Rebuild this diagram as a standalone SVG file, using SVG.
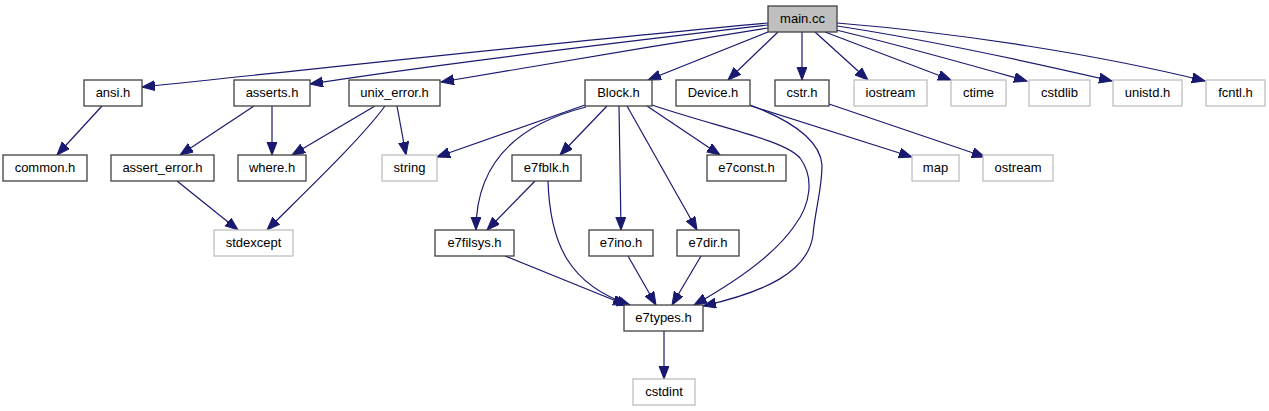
<svg xmlns="http://www.w3.org/2000/svg" width="1269" height="411" viewBox="0 0 1269 411">
<defs>
<style>
.n rect{fill:#ffffff;stroke:#404040;stroke-width:1.3}
.g rect{fill:#ffffff;stroke:#bfbfbf;stroke-width:1.3}
.m rect{fill:#bfbfbf;stroke:#404040;stroke-width:1.3}
text{font-family:"Liberation Sans",Arial,sans-serif;font-size:13px;fill:#000;text-anchor:middle}
.e path{fill:none;stroke:#191970;stroke-width:1.2;marker-end:url(#ah)}
</style>
<marker id="ah" markerWidth="14" markerHeight="11" refX="13" refY="5" orient="auto" markerUnits="userSpaceOnUse">
<path d="M0,0 L13,5 L0,10 z" fill="#191970" stroke="#191970" stroke-width="1"/>
</marker>
</defs>
<rect width="1269" height="411" fill="#ffffff"/>
<g id="edges" class="e">
<path d="M768,23 C600,38 400,60 142,87"/>
<path d="M768,25 C640,40 450,62 310,84"/>
<path d="M768,28 C660,45 540,65 441,82"/>
<path d="M768,32 L648,80"/>
<path d="M778,32 L728,80"/>
<path d="M802,32 L802,80"/>
<path d="M815,32 L868,80"/>
<path d="M825,32 L951,80"/>
<path d="M836,30 C900,45 970,65 1027,81"/>
<path d="M837,26 C930,40 1030,62 1112,81"/>
<path d="M837,23 C960,33 1100,55 1205,81"/>
<path d="M102,106 L57,155"/>
<path d="M254,106 L180,155"/>
<path d="M272,106 L272,155"/>
<path d="M375,106 L292,155"/>
<path d="M385,106 C360,140 305,192 267,230"/>
<path d="M397,106 L406,155"/>
<path d="M177,181 L238,230"/>
<path d="M585,105 L437,157"/>
<path d="M586,107 C515,125 476,165 476,230"/>
<path d="M607,106 L560,155"/>
<path d="M619,106 L621,230"/>
<path d="M627,106 L697,230"/>
<path d="M647,106 L720,155"/>
<path d="M652,105 C720,128 785,140 800,158 C815,178 810,205 795,225 C775,255 735,282 694,305"/>
<path d="M750,105 C790,120 820,140 822,165 C822,190 815,210 813,235 C808,272 765,292 703,306"/>
<path d="M751,106 L912,157"/>
<path d="M829,104 L985,157"/>
<path d="M535,181 L487,230"/>
<path d="M548,181 C550,245 570,285 630,305"/>
<path d="M505,256 L626,305"/>
<path d="M628,256 L656,305"/>
<path d="M701,256 L672,305"/>
<path d="M664,331 L664,379"/>
</g>
<g id="main_cc" class="m"><rect x="768" y="6" width="69" height="26"/><text x="802.5" y="23">main.cc</text></g>
<g id="ansi_h" class="n"><rect x="84" y="80" width="58" height="26"/><text x="113" y="97">ansi.h</text></g>
<g id="asserts_h" class="n"><rect x="234" y="80" width="76" height="26"/><text x="272" y="97">asserts.h</text></g>
<g id="unix_error_h" class="n"><rect x="349" y="80" width="91" height="26"/><text x="394.5" y="97">unix_error.h</text></g>
<g id="Block_h" class="n"><rect x="585" y="80" width="67" height="26"/><text x="618.5" y="97">Block.h</text></g>
<g id="Device_h" class="n"><rect x="676" y="80" width="74" height="26"/><text x="713" y="97">Device.h</text></g>
<g id="cstr_h" class="n"><rect x="775" y="80" width="54" height="26"/><text x="802" y="97">cstr.h</text></g>
<g id="iostream" class="g"><rect x="854" y="80" width="73" height="26"/><text x="890.5" y="97">iostream</text></g>
<g id="ctime" class="g"><rect x="951" y="80" width="55" height="26"/><text x="978.5" y="97">ctime</text></g>
<g id="cstdlib" class="g"><rect x="1029" y="80" width="61" height="26"/><text x="1059.5" y="97">cstdlib</text></g>
<g id="unistd_h" class="g"><rect x="1113" y="80" width="69" height="26"/><text x="1147.5" y="97">unistd.h</text></g>
<g id="fcntl_h" class="g"><rect x="1206" y="80" width="59" height="26"/><text x="1235.5" y="97">fcntl.h</text></g>
<g id="common_h" class="n"><rect x="3" y="155" width="84" height="26"/><text x="45" y="172">common.h</text></g>
<g id="assert_error_h" class="n"><rect x="111" y="155" width="103" height="26"/><text x="162.5" y="172">assert_error.h</text></g>
<g id="where_h" class="n"><rect x="238" y="155" width="68" height="26"/><text x="272" y="172">where.h</text></g>
<g id="string" class="g"><rect x="382" y="155" width="55" height="26"/><text x="409.5" y="172">string</text></g>
<g id="e7fblk_h" class="n"><rect x="512" y="155" width="69" height="26"/><text x="546.5" y="172">e7fblk.h</text></g>
<g id="e7const_h" class="n"><rect x="707" y="155" width="79" height="26"/><text x="746.5" y="172">e7const.h</text></g>
<g id="map" class="g"><rect x="912" y="155" width="47" height="26"/><text x="935.5" y="172">map</text></g>
<g id="ostream" class="g"><rect x="983" y="155" width="70" height="26"/><text x="1018" y="172">ostream</text></g>
<g id="stdexcept" class="g"><rect x="214" y="230" width="79" height="26"/><text x="253.5" y="247">stdexcept</text></g>
<g id="e7filsys_h" class="n"><rect x="435" y="230" width="79" height="26"/><text x="474.5" y="247">e7filsys.h</text></g>
<g id="e7ino_h" class="n"><rect x="589" y="230" width="64" height="26"/><text x="621" y="247">e7ino.h</text></g>
<g id="e7dir_h" class="n"><rect x="677" y="230" width="62" height="26"/><text x="708" y="247">e7dir.h</text></g>
<g id="e7types_h" class="n"><rect x="624" y="305" width="79" height="26"/><text x="663.5" y="322">e7types.h</text></g>
<g id="cstdint" class="g"><rect x="633" y="379" width="62" height="26"/><text x="664" y="396">cstdint</text></g>
</svg>
